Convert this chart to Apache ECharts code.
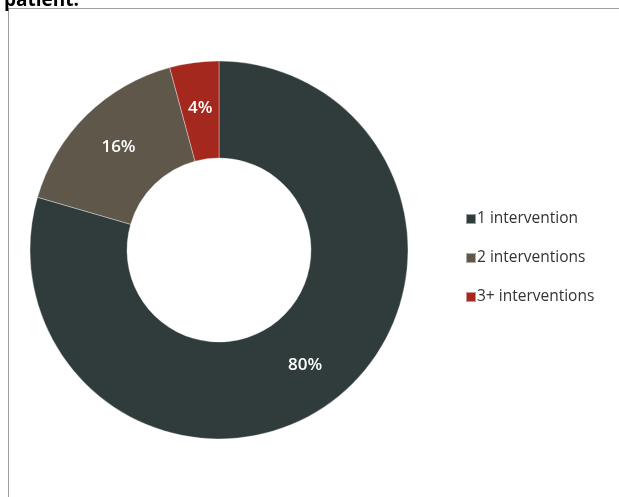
<!DOCTYPE html>
<html>
<head>
<meta charset="utf-8">
<script src="https://cdn.jsdelivr.net/npm/echarts@6/dist/echarts.min.js"></script>
<style>
html,body{margin:0;padding:0;background:#fff;overflow:hidden;}
#frame{position:absolute;left:8px;top:8px;width:640px;height:520px;border-left:1px solid #a0a0a0;border-top:1px solid #a0a0a0;}
#chart{position:absolute;left:0;top:0;width:619px;height:497px;}
</style>
</head>
<body>
<div id="frame"></div>
<div id="chart"></div>
<script>
const categories = ['1 intervention', '2 interventions', '3+ interventions'];
const values = [79.5, 16.3, 4.2];
const colors = ['#2f3c3b', '#5f574a', '#a5281f'];

const chart = echarts.init(document.getElementById('chart'));
chart.setOption({
  animation: false,
  title: {
    text: 'patient.',
    left: -1,
    top: -14,
    textStyle: {fontFamily: 'Open Sans', fontWeight: 'bold', fontSize: 19, color: '#000'}
  },
  legend: {
    orient: 'vertical',
    left: 460,
    top: 206,
    itemWidth: 10,
    itemHeight: 10,
    itemGap: 23,
    icon: 'rect',
    data: categories,
    textStyle: {fontFamily: 'Open Sans', fontSize: 15.5, color: '#333', padding: [0,0,0,-4]}
  },
  series: [{
    type: 'pie',
    center: [219, 250],
    radius: [92, 189],
    startAngle: 90,
    clockwise: true,
    data: categories.map((c, i) => ({name: c, value: values[i], itemStyle: {color: colors[i]}})),
    itemStyle: {borderColor: 'rgba(255,255,255,0.5)', borderWidth: 0.7},
    label: {
      show: true,
      position: 'inside',
      formatter: p => Math.round(p.percent) + '%',
      color: '#fff',
      fontFamily: 'Open Sans',
      fontSize: 17,
      fontWeight: 600
    },
    labelLine: {show: false},
    emphasis: {disabled: true}
  }]
});
</script>
</body>
</html>
